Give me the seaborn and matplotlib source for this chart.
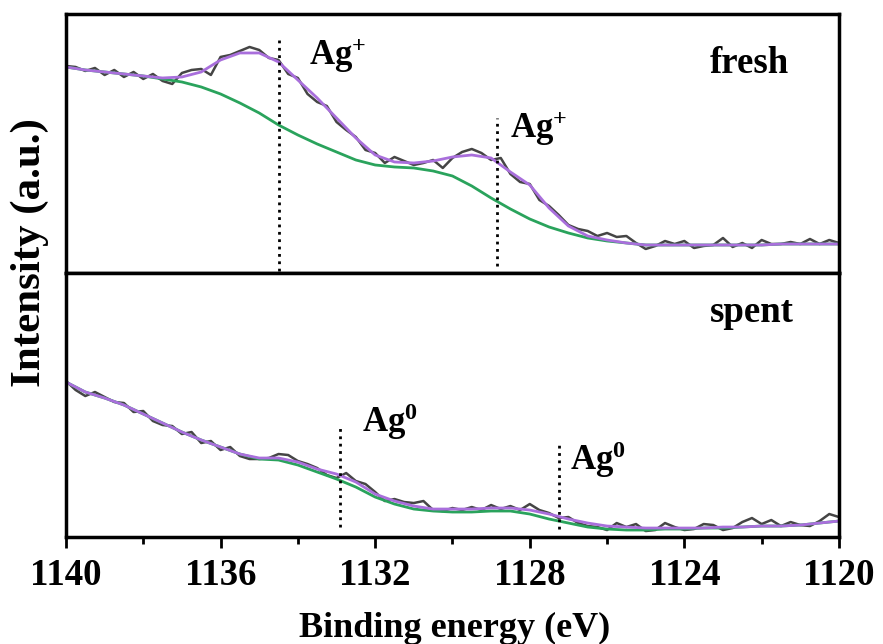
import numpy as np
import matplotlib
matplotlib.use('Agg')
import matplotlib.pyplot as plt
import seaborn as sns
from matplotlib.ticker import MultipleLocator

# style first, then fonts (set_style resets font.family)
sns.set_style("ticks")
plt.rcParams['font.family'] = ['Liberation Serif', 'DejaVu Serif']
plt.rcParams['font.weight'] = 'bold'
plt.rcParams['text.color'] = 'black'
plt.rcParams['xtick.color'] = 'black'
plt.rcParams['axes.labelcolor'] = 'black'
plt.rcParams['mathtext.fontset'] = 'custom'
plt.rcParams['mathtext.default'] = 'bf'
plt.rcParams['mathtext.bf'] = 'Liberation Serif:bold'
plt.rcParams['mathtext.rm'] = 'Liberation Serif:bold'

# binding energy grids (eV)
energy_raw = np.linspace(1140, 1120, 81)   # 0.25 eV step
energy_fit = np.linspace(1140, 1120, 41)   # 0.5 eV step

# ---- fresh sample (a.u.) ----
fresh_raw = [234, 233, 229, 232, 225, 230, 223, 228, 221, 226, 219, 216, 227, 230, 231, 225, 243, 245, 249, 253,
             250, 242, 240, 226, 222, 206, 198, 194, 178, 170, 163, 150, 147, 137, 143, 139, 135, 137, 140, 132,
             142, 148, 151, 147, 140, 142, 126, 118, 116, 100, 94, 85, 75, 71, 69, 64, 67, 63, 64, 57,
             51, 54, 59, 56, 59, 52, 54, 55, 62, 53, 57, 52, 60, 56, 56, 58, 56, 61, 56, 60,
             57]
fresh_fit = [233, 230, 228, 226, 224, 222, 223, 228, 240, 247, 247,
             238, 220, 202, 182, 162, 145, 138, 137, 139, 143,
             145, 142, 128, 115, 92, 74, 64, 60, 57, 55,
             55, 55, 55, 55, 55, 55, 56, 56, 56, 56]
fresh_bg = [233, 230, 228, 226, 224, 221, 218, 213, 206, 197, 187,
            175, 165, 156, 148, 140, 135, 133, 132, 129, 124,
            114, 102, 91, 81, 73, 67, 62, 59, 57, 55,
            55, 55, 55, 55, 55, 55, 56, 56, 56, 56]

# ---- spent sample (a.u.) ----
spent_raw = [179, 170, 164, 168, 163, 158, 157, 148, 149, 139, 135, 134, 126, 128, 117, 119, 110, 113, 104, 101,
             101, 102, 106, 105, 99, 96, 92, 85, 82, 87, 79, 76, 68, 59, 61, 58, 57, 59, 50, 49,
             52, 50, 53, 50, 55, 51, 54, 50, 56, 50, 47, 42, 43, 37, 34, 33, 30, 37, 33, 36,
             29, 30, 37, 33, 30, 31, 36, 35, 30, 32, 38, 42, 36, 40, 34, 38, 35, 34, 39, 46,
             43]
spent_fit = [178, 168, 162, 155, 146, 137, 128, 120, 113, 106, 102,
             102, 98, 91, 86, 78, 66, 59, 54, 51, 51,
             51, 52, 52, 50, 46, 41, 37, 34, 33, 32,
             32, 32, 32, 33, 33, 34, 34, 35, 37, 39]
spent_bg = [178, 168, 162, 155, 146, 137, 128, 120, 113, 106, 101,
            100, 95, 88, 81, 73, 63, 56, 51, 49, 48,
            48, 49, 49, 46, 41, 37, 33, 31, 30, 30,
            31, 31, 32, 32, 33, 34, 34, 35, 37, 39]

# peak markers: (energy, ymin, ymax, label, label_x, label_y)
fresh_peaks = [(1134.5, 29, 262, 'Ag$^{+}$', 1133.7, 235),
               (1128.85, 34, 182, 'Ag$^{+}$', 1128.5, 162)]
spent_peaks = [(1132.9, 33, 135, 'Ag$^{0}$', 1132.35, 128),
               (1127.25, 31, 117, 'Ag$^{0}$', 1126.95, 90)]

RAW = '#454545'
PURPLE = '#a96fdc'
GREEN = '#2aa35c'

fig = plt.figure(figsize=(8.83, 6.44), dpi=100)
ax_top = fig.add_axes([0.0747, 0.5761, 0.8754, 0.4022])
ax_bot = fig.add_axes([0.0747, 0.1661, 0.8754, 0.4100])


def draw(ax, raw, fit, bg, peaks, name, name_y, ylim):
    sns.lineplot(x=energy_raw, y=raw, color=RAW, lw=1.8, ax=ax)
    sns.lineplot(x=energy_fit, y=bg, color=GREEN, lw=2, ax=ax)
    sns.lineplot(x=energy_fit, y=fit, color=PURPLE, lw=2, ax=ax)
    for e, y0, y1, lab, lx, ly in peaks:
        ax.plot([e, e], [y0, y1], color='black', ls=':', lw=2)
        ax.text(lx, ly, lab, fontsize=25, fontweight='bold', ha='left', va='baseline')
    ax.text(1123.35, name_y, name, fontsize=26.5, fontweight='bold', ha='left', va='baseline')
    ax.set_xlim(1140, 1120)
    ax.set_ylim(*ylim)
    ax.set_yticks([])
    ax.set_xlabel('')
    ax.set_ylabel('')
    for s in ax.spines.values():
        s.set_linewidth(2.5)
        s.set_color('black')


draw(ax_top, fresh_raw, fresh_fit, fresh_bg, fresh_peaks, 'fresh', 227, (27, 286))
draw(ax_bot, spent_raw, spent_fit, spent_bg, spent_peaks, 'spent', 238, (23, 287))

ax_top.tick_params(axis='x', which='both', bottom=False, labelbottom=False)

ax_bot.xaxis.set_major_locator(MultipleLocator(4))
ax_bot.xaxis.set_minor_locator(MultipleLocator(2))
ax_bot.tick_params(axis='x', which='major', direction='out', length=8, width=2,
                   labelsize=26.5, pad=7, bottom=True)
ax_bot.tick_params(axis='x', which='minor', direction='out', length=5, width=2, bottom=True)
for lab in ax_bot.get_xticklabels():
    lab.set_fontweight('bold')

fig.text(0.515, 1 - 637 / 644, 'Binding energy (eV)', fontsize=26, fontweight='bold',
         ha='center', va='baseline')
fig.text(0.034, 1 - 253 / 644, 'Intensity (a.u.)', fontsize=31, fontweight='bold',
         rotation=90, ha='center', va='center')

fig.savefig('out.png', dpi=100)
